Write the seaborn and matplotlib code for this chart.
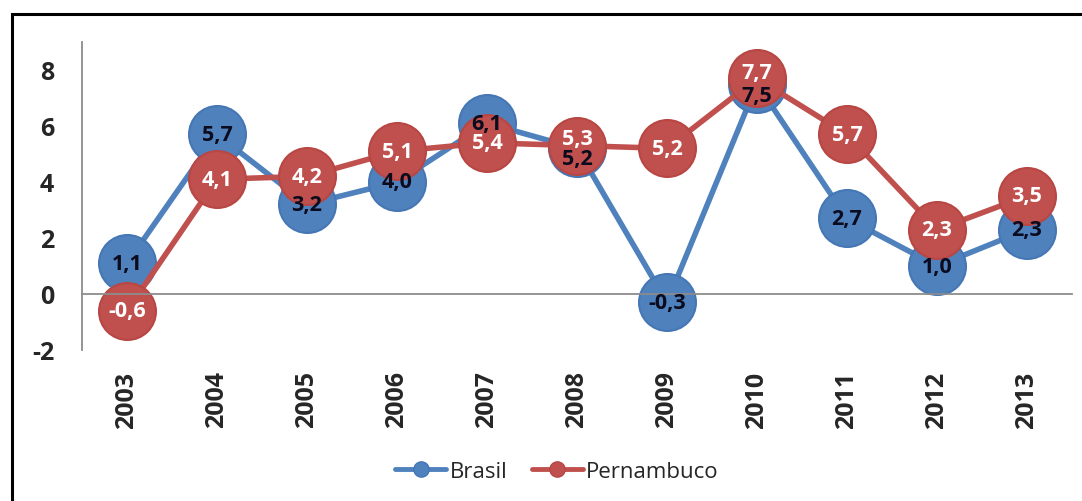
import matplotlib
matplotlib.use("Agg")
import matplotlib.pyplot as plt
from matplotlib.lines import Line2D
from matplotlib.patches import Rectangle
from matplotlib.ticker import FixedLocator
import numpy as np
import pandas as pd
import seaborn as sns

# Annual growth rate (%) - Brasil vs Pernambuco
years = [2003, 2004, 2005, 2006, 2007, 2008, 2009, 2010, 2011, 2012, 2013]
brasil = [1.1, 5.7, 3.2, 4.0, 6.1, 5.2, -0.3, 7.5, 2.7, 1.0, 2.3]
pernambuco = [-0.6, 4.1, 4.2, 5.1, 5.4, 5.3, 5.2, 7.7, 5.7, 2.3, 3.5]
series_names = ["Brasil", "Pernambuco"]
y_ticks = [-2, 0, 2, 4, 6, 8]

sns.set_style("white")
plt.rcParams["font.family"] = ["Open Sans", "DejaVu Sans"]
plt.rcParams["axes.unicode_minus"] = False

df = pd.DataFrame({
    "Ano": years * 2,
    "Taxa": brasil + pernambuco,
    "Série": [series_names[0]] * len(years) + [series_names[1]] * len(years),
})

styles = {
    "Brasil": dict(fill="#4F81BD", edge="#4677B5", text="#0B0B1E"),
    "Pernambuco": dict(fill="#C0504D", edge="#B84744", text="white"),
}
# label nudges (points) where the two bubbles overlap
label_nudge = {("Brasil", 2008): -7.0, ("Pernambuco", 2008): 5.0,
               ("Brasil", 2010): -8.6, ("Pernambuco", 2010): 4.3}

fig = plt.figure(figsize=(10.82, 5.02), dpi=100)
fig.patch.set_facecolor("white")
ax = fig.add_axes([82 / 1082, 1 - 351 / 502, 990 / 1082, 308 / 502])

for name in series_names:
    st = styles[name]
    sub = df[df["Série"] == name]
    sns.lineplot(data=sub, x="Ano", y="Taxa", ax=ax, color=st["fill"],
                 linewidth=4, marker="o", markersize=41,
                 markerfacecolor=st["fill"], markeredgecolor=st["edge"],
                 markeredgewidth=1.5, sort=False, legend=False, clip_on=False)

for name in series_names:
    st = styles[name]
    sub = df[df["Série"] == name]
    for x, v in zip(sub["Ano"], sub["Taxa"]):
        ax.annotate(f"{v:.1f}".replace(".", ","), (x, v),
                    xytext=(0, label_nudge.get((name, x), 0)),
                    textcoords="offset points", ha="center", va="center",
                    fontsize=15.5, fontweight="bold", color=st["text"],
                    zorder=10, annotation_clip=False)

ax.set_xlim(years[0] - 0.5, years[-1] + 0.5)
ax.set_ylim(-2, 9)
ax.set_xlabel("")
ax.set_ylabel("")

axis_gray = "#8C8C8C"
for s in ["top", "right"]:
    ax.spines[s].set_visible(False)
ax.spines["left"].set_color(axis_gray)
ax.spines["left"].set_linewidth(1.3)
ax.spines["bottom"].set_color(axis_gray)
ax.spines["bottom"].set_linewidth(1.3)
ax.spines["bottom"].set_position(("data", 0))

ax.set_yticks(y_ticks)
ax.set_yticklabels([str(t) for t in y_ticks], fontweight="bold")
ax.tick_params(axis="y", direction="out", length=7, width=1.3, color=axis_gray,
               pad=13, labelsize=18)
ax.set_xticks(years)
ax.set_xticklabels([str(y) for y in years], rotation=90, fontweight="bold")
ax.xaxis.set_minor_locator(FixedLocator([y + 0.5 for y in years]))
ax.tick_params(axis="x", which="major", length=0, pad=55, labelsize=18)
ax.tick_params(axis="x", which="minor", direction="out", length=5, width=1.3,
               color=axis_gray)

handles = [Line2D([], [], color=styles[n]["fill"], lw=3.5, marker="o",
                  markersize=11, markerfacecolor=styles[n]["fill"],
                  markeredgecolor=styles[n]["edge"]) for n in series_names]
fig.legend(handles, series_names, loc="center",
           bbox_to_anchor=(557 / 1082, 1 - 472 / 502), ncol=2, frameon=False,
           fontsize=16, handlelength=2.3, handletextpad=0.15,
           columnspacing=1.1)

fig.add_artist(Rectangle((11.5 / 1082, -0.2), 1.2, 1.2 - 14.7 / 502,
                         transform=fig.transFigure, fill=False,
                         edgecolor="black", linewidth=2.2, clip_on=False))

fig.savefig("out.png", dpi=100, facecolor="white")
